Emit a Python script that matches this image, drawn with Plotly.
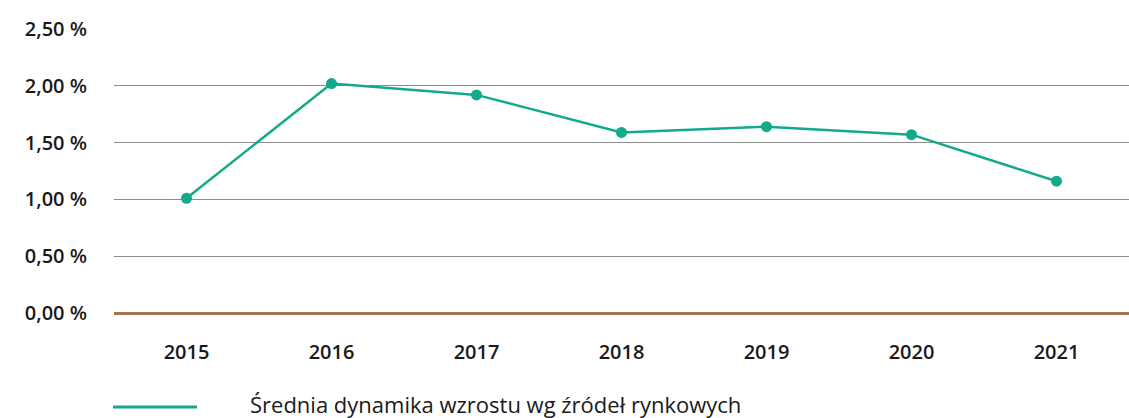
import plotly.graph_objects as go

years = ["2015", "2016", "2017", "2018", "2019", "2020", "2021"]
values = [1.01, 2.02, 1.92, 1.59, 1.64, 1.57, 1.16]
series_name = "Średnia dynamika wzrostu wg źródeł rynkowych"
y_tick_vals = [0.0, 0.5, 1.0, 1.5, 2.0, 2.5]
y_tick_text = ["0,00 %", "0,50 %", "1,00 %", "1,50 %", "2,00 %", "2,50 %"]

GREEN = "#12AA8B"
FONT = "Open Sans"

fig = go.Figure()
fig.add_trace(go.Scatter(
    x=years, y=values, mode="lines+markers", name=series_name,
    line=dict(color=GREEN, width=2.5),
    marker=dict(color=GREEN, size=11),
    showlegend=False,
))

fig.update_layout(
    width=1129, height=418,
    margin=dict(l=114, r=0, t=29, b=105),
    paper_bgcolor="white", plot_bgcolor="white",
    font=dict(family=FONT, size=19, color="#1a1a1a"),
    xaxis=dict(
        type="category", range=[-0.5, 6.5], showgrid=False, zeroline=False, showline=False,
        ticks="", ticklabelstandoff=25,
        tickfont=dict(family=FONT, size=20, weight=600, color="#1a1a1a"),
    ),
    yaxis=dict(
        range=[0, 2.5], tickvals=y_tick_vals, ticktext=y_tick_text,
        showgrid=True, gridcolor="#8c8c8c", gridwidth=1.3,
        zeroline=True, zerolinecolor="#A9714F", zerolinewidth=2.5,
        showline=False, ticks="", ticklabelstandoff=26,
        tickfont=dict(family=FONT, size=20, weight=600, color="#1a1a1a"),
    ),
)

# legend drawn manually for a wide line sample
fig.add_shape(type="line", xref="paper", yref="paper",
              x0=-0.001, x1=0.0818, y0=-0.331, y1=-0.331,
              line=dict(color=GREEN, width=3))
fig.add_annotation(xref="paper", yref="paper", x=0.132, y=-0.322,
                   text=series_name, showarrow=False, xanchor="left", yanchor="middle",
                   font=dict(family=FONT, size=22, color="#1a1a1a"))

fig.write_html("out.html")
